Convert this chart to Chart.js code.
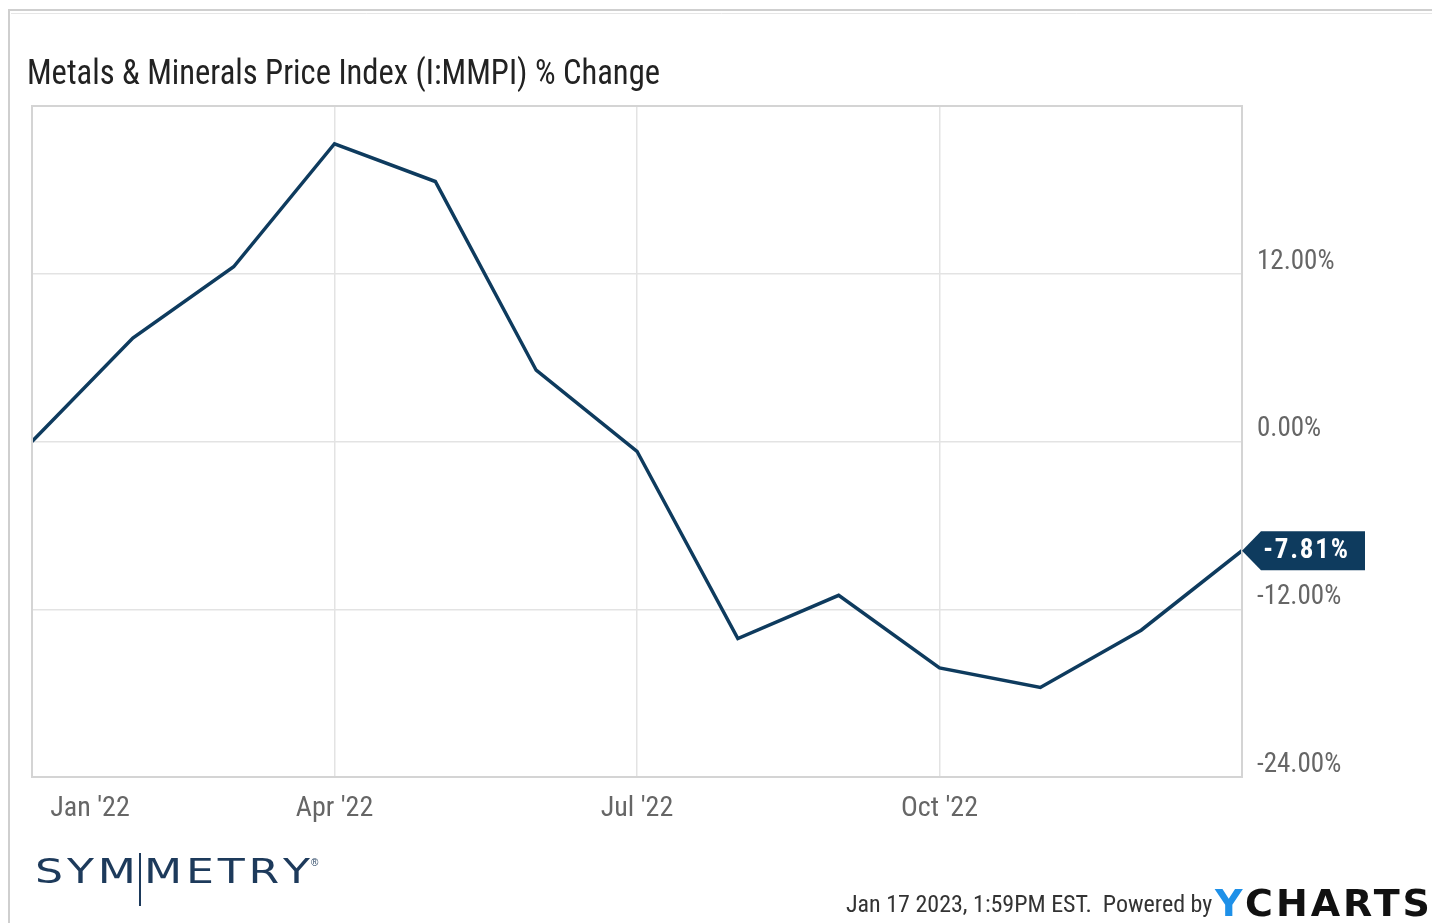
<!DOCTYPE html>
<html>
<head>
<meta charset="utf-8">
<script src="https://cdn.jsdelivr.net/npm/chart.js@4.4.1/dist/chart.umd.min.js"></script>
<style>
  html, body { margin: 0; padding: 0; background: #ffffff; }
  #wrap { width: 1432px; height: 923px; position: relative; }
</style>
</head>
<body>
<div id="wrap"><canvas id="c" width="1432" height="923"></canvas></div>
<script>
// ---- data ----
const dates = ['Dec 31 2021','Jan 31 2022','Feb 28 2022','Mar 31 2022','Apr 30 2022','May 31 2022',
               'Jun 30 2022','Jul 31 2022','Aug 31 2022','Sep 30 2022','Oct 31 2022','Nov 30 2022','Dec 31 2022'];
const pctChange = [0.0, 7.4, 12.5, 21.3, 18.6, 5.1, -0.7, -14.1, -11.0, -16.2, -17.6, -13.5, -7.81];
const yTicks = [-24, -12, 0, 12];
const xTickMonths = [0, 3, 6, 9];           // month offsets from the series start
const xTickLabels = ["Jan '22", "Apr '22", "Jul '22", "Oct '22"];
const titleText = 'Metals & Minerals Price Index (I:MMPI) % Change';
const lastLabel = '-7.81%';

const COND = '"Roboto Condensed","Liberation Sans Narrow","DejaVu Sans Condensed","Roboto",sans-serif';
const NAVY = '#0e3b5e';

const points = pctChange.map((v, i) => ({x: i, y: v}));

function fitText(ctx, text, x, y, width) {
  const w = ctx.measureText(text).width;
  ctx.save();
  ctx.translate(x, y);
  ctx.scale(width / w, 1);
  ctx.fillText(text, 0, 0);
  ctx.restore();
}

const decor = {
  id: 'decor',
  beforeDraw(chart) {
    const ctx = chart.ctx;
    ctx.save();
    ctx.fillStyle = '#fff';
    ctx.fillRect(0, 0, chart.width, chart.height);
    // outer frame
    ctx.strokeStyle = '#cfcfcf';
    ctx.lineWidth = 2;
    ctx.beginPath();
    ctx.moveTo(9, 923); ctx.lineTo(9, 10); ctx.lineTo(1432, 10);
    ctx.stroke();
    ctx.strokeStyle = '#e6e6e6';
    ctx.lineWidth = 1;
    ctx.beginPath();
    ctx.moveTo(11, 13.5); ctx.lineTo(1432, 13.5);
    ctx.stroke();
    // title
    ctx.fillStyle = '#222';
    ctx.font = '35px ' + COND;
    ctx.textBaseline = 'alphabetic';
    ctx.textAlign = 'left';
    fitText(ctx, titleText, 27, 84, 633);
    ctx.restore();
  },
  afterDatasetsDraw(chart) {
    const ctx = chart.ctx;
    const a = chart.chartArea;
    const xs = chart.scales.x, ys = chart.scales.y;
    ctx.save();
    // plot border
    ctx.strokeStyle = '#d4d4d4';
    ctx.lineWidth = 2;
    ctx.strokeRect(a.left, a.top, a.right - a.left, a.bottom - a.top);
    // x labels
    ctx.fillStyle = '#666';
    ctx.font = '28px ' + COND;
    ctx.textAlign = 'center';
    ctx.textBaseline = 'alphabetic';
    xTickMonths.forEach((m, i) => {
      let px = xs.getPixelForValue(m);
      if (i === 0) px += 58;
      ctx.fillText(xTickLabels[i], px, 816);
    });
    // last value badge
    const lx = xs.getPixelForValue(points.length - 1);
    const ly = ys.getPixelForValue(pctChange[pctChange.length - 1]);
    const h = 39, w = 123, s = 19;
    ctx.fillStyle = NAVY;
    ctx.beginPath();
    ctx.moveTo(lx, ly);
    ctx.lineTo(lx + s, ly - h / 2);
    ctx.lineTo(lx + w, ly - h / 2);
    ctx.lineTo(lx + w, ly + h / 2);
    ctx.lineTo(lx + s, ly + h / 2);
    ctx.closePath();
    ctx.fill();
    ctx.fillStyle = '#fff';
    ctx.font = 'bold 27px ' + COND;
    ctx.textAlign = 'center';
    ctx.textBaseline = 'middle';
    if ('letterSpacing' in ctx) ctx.letterSpacing = '1.8px';
    ctx.fillText(lastLabel, lx + w / 2 + 3, ly + 1);
    if ('letterSpacing' in ctx) ctx.letterSpacing = '0px';
    ctx.restore();
  },
  afterDraw(chart) {
    const ctx = chart.ctx;
    ctx.save();
    // SYMMETRY logo
    ctx.fillStyle = '#1d3a5b';
    ctx.font = '34px "DejaVu Sans","Roboto",sans-serif';
    ctx.textBaseline = 'alphabetic';
    ctx.textAlign = 'left';
    const drawSpaced = (txt, x0, x1) => {
      const widths = [...txt].map(c => ctx.measureText(c).width);
      const total = widths.reduce((p, q) => p + q, 0);
      const sx = 1.3;
      const gap = ((x1 - x0) - total * sx) / (txt.length - 1);
      let x = x0;
      [...txt].forEach((c, i) => {
        ctx.save(); ctx.translate(x, 883); ctx.scale(sx, 1); ctx.fillText(c, 0, 0); ctx.restore();
        x += widths[i] * sx + gap;
      });
    };
    drawSpaced('SYM', 35, 136);
    drawSpaced('METRY', 144, 310);
    ctx.fillRect(139, 853, 2, 53);
    ctx.font = '10px sans-serif';
    ctx.fillText('®', 311, 866);
    // footer
    ctx.fillStyle = '#333';
    ctx.font = '24px ' + COND;
    ctx.fillText('Jan 17 2023, 1:59PM EST.  Powered by', 846, 912);
    ctx.fillStyle = '#1e90e8';
    ctx.font = 'bold 38px "DejaVu Sans","Roboto",sans-serif';
    ctx.fillText('Y', 1215, 916);
    ctx.fillStyle = '#111';
    if ('letterSpacing' in ctx) ctx.letterSpacing = '3px';
    ctx.fillText('CHARTS', 1245, 916);
    if ('letterSpacing' in ctx) ctx.letterSpacing = '0px';
    ctx.restore();
  }
};

new Chart(document.getElementById('c'), {
  type: 'line',
  data: {
    datasets: [{
      label: 'I:MMPI % Change',
      data: points,
      borderColor: NAVY,
      borderWidth: 3.5,
      pointRadius: 0,
      tension: 0,
      fill: false
    }]
  },
  options: {
    responsive: false,
    animation: false,
    layout: { padding: { left: 32, top: 106, right: 0, bottom: 0 } },
    plugins: { legend: { display: false }, tooltip: { enabled: false }, title: { display: false } },
    scales: {
      x: {
        type: 'linear',
        min: 0, max: pctChange.length - 1,
        afterBuildTicks: s => { s.ticks = xTickMonths.slice(1).map(v => ({value: v})); },
        afterFit: s => { s.height = 146; },
        grid: { color: '#e3e3e3', lineWidth: 1.5, drawTicks: false },
        border: { display: false },
        ticks: { display: false }
      },
      y: {
        position: 'right',
        min: -24, max: 24,
        afterBuildTicks: s => { s.ticks = yTicks.map(v => ({value: v})); },
        afterFit: s => { s.width = 190; },
        grid: { color: '#e3e3e3', lineWidth: 1.5, drawTicks: false },
        border: { display: false },
        ticks: {
          color: '#666',
          font: { family: COND, size: 27 },
          padding: 15,
          labelOffset: -12,
          callback: v => v.toFixed(2) + '%'
        }
      }
    }
  },
  plugins: [decor]
});
</script>
</body>
</html>
